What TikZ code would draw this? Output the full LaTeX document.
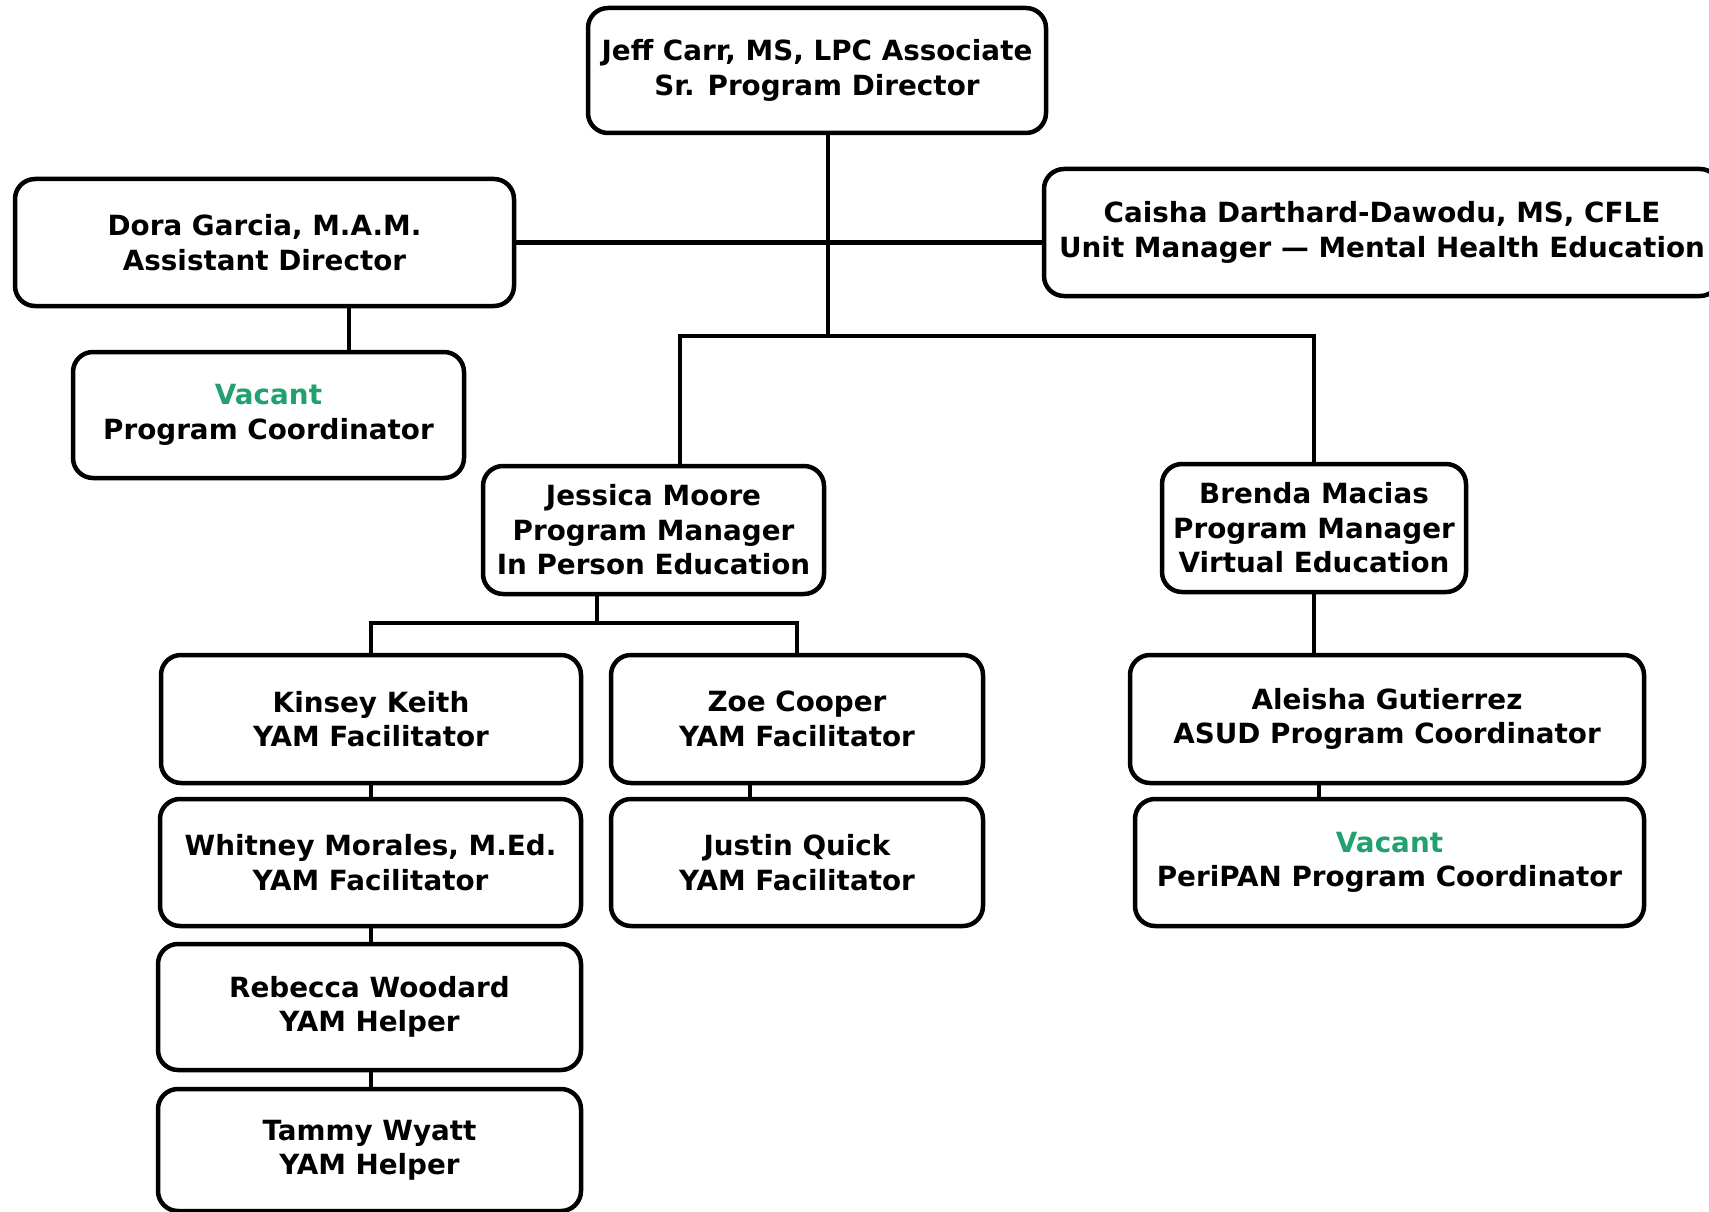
\documentclass[tikz,border=0pt]{standalone}
\usepackage{fontspec}
\setmainfont{DejaVu Sans}
\definecolor{vacant}{RGB}{34,160,112}
\tikzset{
  box/.style={draw=black, line width=4.5pt, rounded corners=20pt, fill=white,
    inner sep=0pt, align=center, font=\fontsize{27.8}{34.5}\selectfont\bfseries},
  link/.style={draw=black, line width=4.5pt},
}
\begin{document}
\begin{tikzpicture}[x=1pt,y=-1pt]
\useasboundingbox (0,0) rectangle (1709,1212);
\fill[white] (0,0) rectangle (1709,1212);
% coordinates for connector positions
\coordinate (hub) at (828,336);
\coordinate (jb) at (597,623);
\coordinate (dv) at (349,0);
\coordinate (jx) at (680,0);
\coordinate (zj) at (750,0);
\coordinate (ap) at (1319,0);
% boxes
\node[box, minimum width=458, minimum height=125] (jeff) at (817,70.5) {Jeff Carr, MS, LPC Associate\\Sr. Program Director};
\node[box, minimum width=499, minimum height=127] (dora) at (264.5,242.5) {Dora Garcia, M.A.M.\\Assistant Director};
\node[box, minimum width=391, minimum height=126] (vacpc) at (268.5,415) {\textcolor{vacant}{Vacant}\\Program Coordinator};
\node[box, minimum width=676, minimum height=127] (caisha) at (1382,232.5) {Caisha Darthard-Dawodu, MS, CFLE\\Unit Manager — Mental Health Education};
\node[box, minimum width=341, minimum height=128] (jessica) at (653.5,530) {Jessica Moore\\Program Manager\\In Person Education};
\node[box, minimum width=304, minimum height=128] (brenda) at (1314,528) {Brenda Macias\\Program Manager\\Virtual Education};
\node[box, minimum width=420, minimum height=128] (kinsey) at (371,719) {Kinsey Keith\\YAM Facilitator};
\node[box, minimum width=372, minimum height=128] (zoe) at (797,719) {Zoe Cooper\\YAM Facilitator};
\node[box, minimum width=421, minimum height=127] (whitney) at (370.5,862.5) {Whitney Morales, M.Ed.\\YAM Facilitator};
\node[box, minimum width=372, minimum height=127] (justin) at (797,862.5) {Justin Quick\\YAM Facilitator};
\node[box, minimum width=423, minimum height=126] (rebecca) at (369.5,1007) {Rebecca Woodard\\YAM Helper};
\node[box, minimum width=423, minimum height=122] (tammy) at (369.5,1150) {Tammy Wyatt\\YAM Helper};
\node[box, minimum width=514, minimum height=128] (aleisha) at (1387,719) {Aleisha Gutierrez\\ASUD Program Coordinator};
\node[box, minimum width=509, minimum height=127] (peripan) at (1389.5,862.5) {\textcolor{vacant}{Vacant}\\PeriPAN Program Coordinator};
% connectors
\draw[link] (jeff.south -| hub) -- (hub);
\draw[link] (dora.east) -- (dora.east -| caisha.west);
\draw[link] (dora.south -| dv) -- (vacpc.north -| dv);
\draw[link] (jessica.north -| jx) |- (hub) -| (brenda.north);
\draw[link] (jessica.south -| jb) -- (jb);
\draw[link] (kinsey.north) |- (jb) -| (zoe.north);
\draw[link] (kinsey.south) -- (whitney.north -| kinsey.south);
\draw[link] (whitney.south -| kinsey.south) -- (rebecca.north -| kinsey.south);
\draw[link] (rebecca.south -| kinsey.south) -- (tammy.north -| kinsey.south);
\draw[link] (zoe.south -| zj) -- (justin.north -| zj);
\draw[link] (brenda.south) -- (aleisha.north -| brenda.south);
\draw[link] (aleisha.south -| ap) -- (peripan.north -| ap);
\end{tikzpicture}
\end{document}
